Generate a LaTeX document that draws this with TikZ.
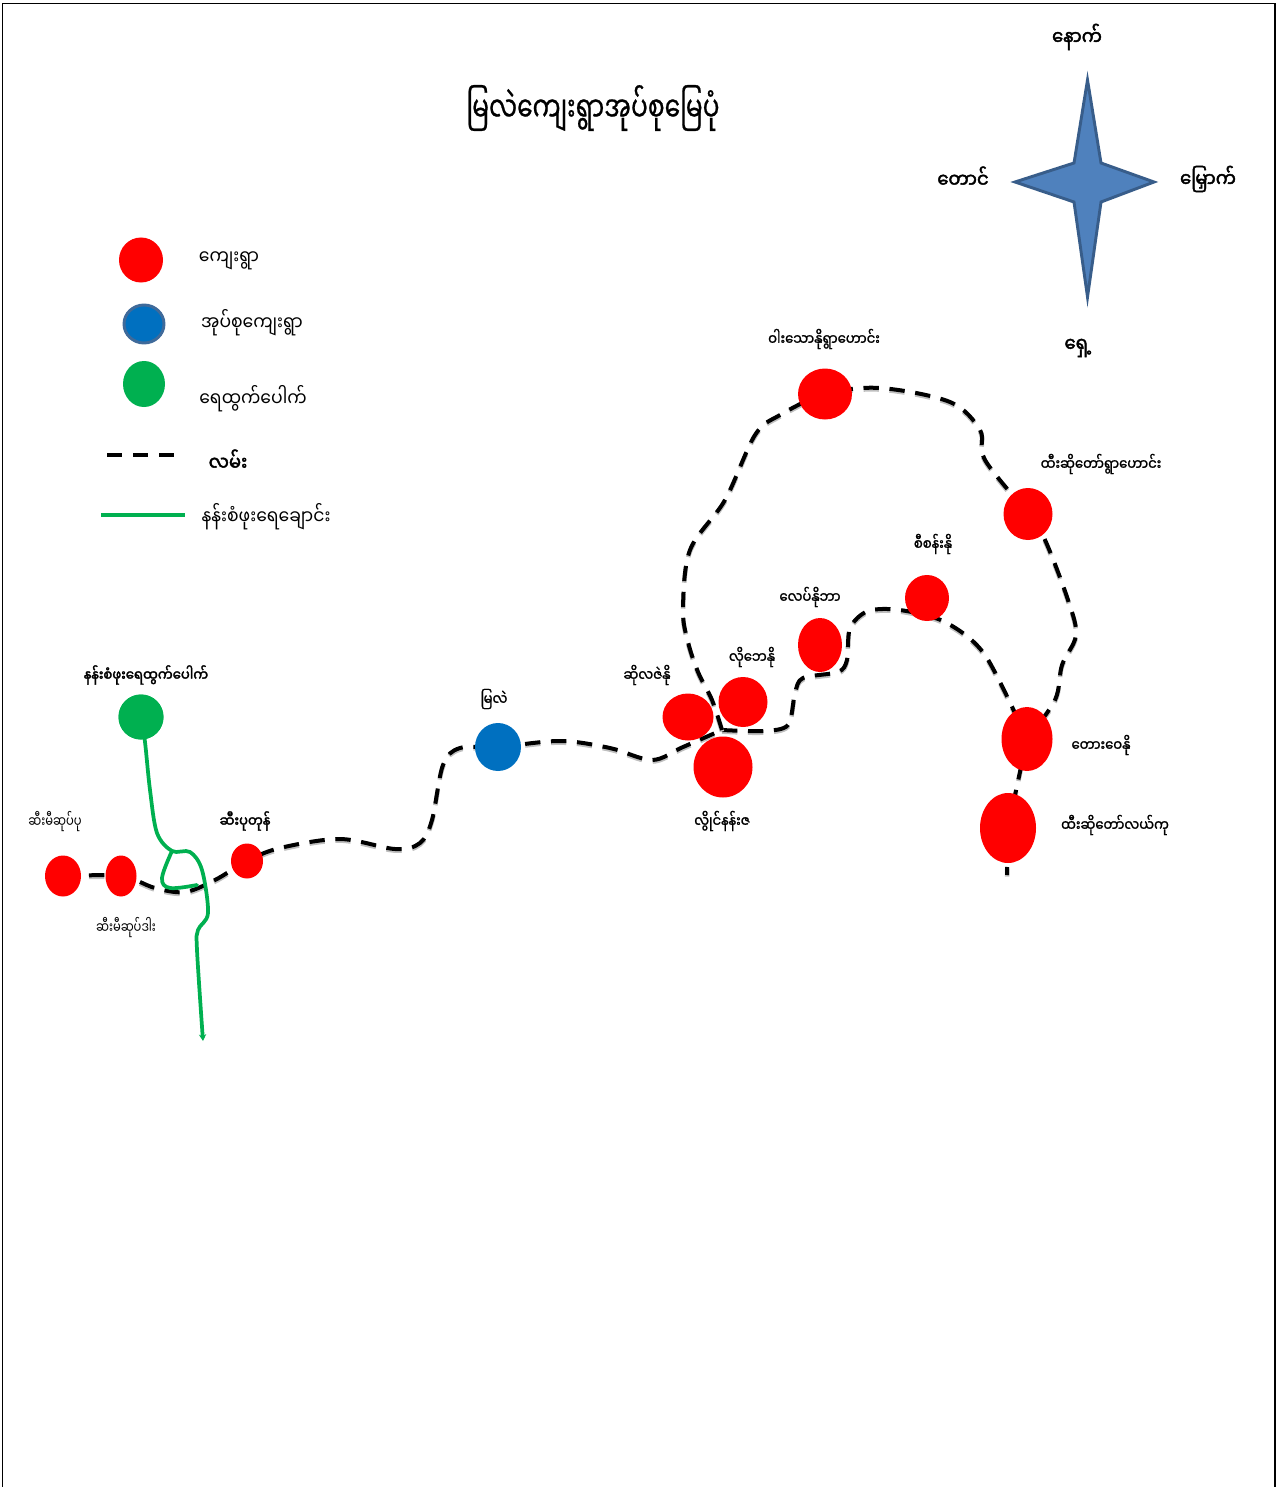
\documentclass[tikz,border=0pt]{standalone}
\usepackage{fontspec}
\usetikzlibrary{shapes.geometric,backgrounds,arrows.meta}
\newfontfamily\myfont[Script=Myanmar,FakeStretch=0.86]{Noto Sans Myanmar UI}
\newfontfamily\myheavy[Script=Myanmar,FakeStretch=0.86,FakeBold=1.2]{Noto Sans Myanmar UI}
\newfontfamily\myheavier[Script=Myanmar,FakeStretch=0.9,FakeBold=2.2]{Noto Sans Myanmar UI}
\newfontfamily\mynarrow[Script=Myanmar,FakeStretch=0.75]{Noto Sans Myanmar UI}
\newfontfamily\mytitle[Script=Myanmar,FakeStretch=0.72,FakeBold=0.6]{Noto Sans Myanmar UI}
\definecolor{villred}{HTML}{FF0000}
\definecolor{groupblue}{HTML}{0070C0}
\definecolor{bluerim}{HTML}{3F6A9A}
\definecolor{springgreen}{HTML}{00B050}
\definecolor{starfill}{HTML}{4F81BD}
\definecolor{starline}{HTML}{385D8A}
\tikzset{
  sz/.style 2 args={minimum width=#1*0.75pt,minimum height=#2*0.75pt},
  spot/.style={ellipse,inner sep=0pt,draw=none},
  vill/.style={spot,fill=villred},
  grp/.style={spot,fill=groupblue},
  spring/.style={spot,fill=springgreen},
  road/.style={draw=black,line width=3pt,dash pattern=on 11.5pt off 8pt,
     preaction={draw=black!25,line width=3.4pt,dash pattern=on 11.5pt off 8pt,transform canvas={yshift=-1.2pt}}},
  stream/.style={draw=springgreen,line width=2.8pt,line cap=round,line join=round},
  lab/.style={font=\myheavy\fontsize{11.5}{13}\selectfont,inner sep=0pt},
  thinlab/.style={font=\mynarrow\fontsize{11.5}{13}\selectfont,inner sep=0pt},
  blab/.style={font=\myheavier\fontsize{11}{13}\selectfont,inner sep=0pt},
  leg/.style={font=\myfont\fontsize{15}{18}\selectfont,inner sep=0pt},
  dirlab/.style={font=\myheavier\fontsize{15}{18}\selectfont,inner sep=0pt},
}
\begin{document}
\begin{tikzpicture}[x=0.75pt,y=-0.75pt]
\useasboundingbox (0,0) rectangle (1276,1487);
\draw[black,line width=0.9pt] (2.5,1487) -- (2.5,3.5) -- (1275,3.5) -- (1275,1487);

% title
\node[font=\mytitle\fontsize{26}{32}\selectfont,inner sep=0pt] (title) at (593,108) {မြလဲကျေးရွာအုပ်စုမြေပုံ};

% compass star
\draw[fill=starfill,draw=starline,line width=2.2pt,line join=miter,miter limit=20]
  (1087.5,80) -- (1101,163) -- (1154,182) -- (1101,202) -- (1087.5,297) -- (1074,202) -- (1015,182) -- (1074,163) -- cycle;
\node[dirlab] (north) at (1077,37) {နောက်};
\node[dirlab] (west) at (963,177) {တောင်};
\node[dirlab] (east) at (1208,179) {မြှောက်};
\node[dirlab] (south) at (1078,348) {ရှေ့};

% legend
\node[vill,sz={44}{45}] (lvill) at (141,260) {};
\node[grp,sz={40}{38},draw=bluerim,line width=2.2pt] (lgrp) at (144,324) {};
\node[spring,sz={42}{46}] (lspring) at (144,384) {};
\coordinate (lra) at (107,455);
\coordinate (lrb) at (174,455);
\coordinate (lsa) at (101,515);
\coordinate (lsb) at (185,515);
\draw[black,line width=3pt,dash pattern=on 11.5pt off 8pt] (lra) -- (lrb);
\draw[springgreen,line width=3pt] (lsa) -- (lsb);
\node[leg] (tvill) at (229,261) {ကျေးရွာ};
\node[leg] (tgrp) at (252,323) {အုပ်စုကျေးရွာ};
\node[leg] (tspring) at (253,399) {ရေထွက်ပေါက်};
\node[leg,font=\myheavier\fontsize{15}{18}\selectfont] (troad) at (228,460) {လမ်း};
\node[leg] (tstream) at (266,517) {နန်းစံဖုးရေချောင်း};

% places
\node[spring,sz={45}{45}] (gr) at (141,717) {};
\node[vill,sz={36}{41}] (sa) at (63,876) {};
\node[vill,sz={31}{41}] (sb) at (121,876) {};
\node[vill,sz={32}{35}] (st) at (247,861) {};
\node[grp,sz={46}{48}] (my) at (498,747) {};
\node[vill,sz={51}{47}] (sl) at (688,717) {};
\node[vill,sz={49}{50}] (lb) at (743,702) {};
\node[vill,sz={59}{61}] (lw) at (723,767) {};
\node[vill,sz={44}{54}] (lp) at (820,645) {};
\node[vill,sz={54}{51}] (wa) at (825,394) {};
\node[vill,sz={49}{52}] (ht) at (1028,514) {};
\node[vill,sz={44}{46}] (ss) at (927,598) {};
\node[vill,sz={51}{64}] (tg) at (1027,739) {};
\node[vill,sz={56}{70}] (hl) at (1008,828) {};
\coordinate (jn) at (722,730);
\coordinate (hlend) at (1007,875);
\coordinate (sj) at (172,851);
\coordinate (send) at (203,1041);

% labels
\node[blab] (tgr) at (146,675) {နန်းစံဖုးရေထွက်ပေါက်};
\node[thinlab] (tsa) at (55,822) {ဆီးမီဆုပ်ပု};
\node[thinlab] (tsb) at (126,928) {ဆီးမီဆုပ်ဒါး};
\node[blab] (tst) at (245,821) {ဆီးပုတုန်};
\node[lab] (tmy) at (494,699) {မြလဲ};
\node[lab] (tsl) at (647,675) {ဆိုလဇဲနို};
\node[lab] (tlb) at (752,657) {လိုဘေနို};
\node[lab] (tlp) at (810,597) {လေပ်နိုဘာ};
\node[lab] (tlw) at (722,821) {လွိုင်နန်းဇ};
\node[lab] (twa) at (824,339) {ဝါးသောနိုရွာဟောင်း};
\node[lab] (tht) at (1101,464) {ထီးဆိုတော်ရွာဟောင်း};
\node[lab] (tss) at (933,544) {စီစန်းနို};
\node[lab] (ttg) at (1101,745) {တေားဝေနို};
\node[lab] (thl) at (1115,825) {ထီးဆိုတော်လယ်ကု};

\begin{scope}[on background layer]
% main road, west to the junction
\draw[road] plot[smooth,tension=.55] coordinates {(sa.center) (sb.center) (155,888) (185,892) (215,880) (st.center) (280,848) (340,839) (395,849) (420,843) (432,820) (443,765) (460,748) (my.center) (560,741) (610,748) (652,760) (683,747) (jn)};
% junction east via Lp and Ss to Tg
\draw[road] plot[smooth,tension=.5] coordinates {(jn) (763,731) (788,725) (795,693) (803,678) (838,672) (847,660) (850,628) (868,611) (900,610) (945,622) (985,655) (tg.center)};
% junction north via Wa and Ht to Tg
\draw[road] plot[smooth,tension=.55] coordinates {(jn) (712,700) (698,672) (688,642) (683,610) (690,550) (725,500) (755,435) (780,415) (wa.center) (880,388) (950,402) (980,430) (985,460) (ht.center) (1045,540) (1068,600) (1076,635) (1062,665) (1055,700) (tg.center)};
% Tg south
\draw[road] (tg.center) -- (hl.center) -- (hlend);
\end{scope}

% stream
\draw[stream,-{Stealth[length=5pt,width=5.5pt]}] plot[smooth,tension=.55] coordinates {(gr.center) (145,742) (150,790) (157,833) (sj) (190,852) (202,870) (208,913) (198,930) (197,950) (send)};
\draw[stream] plot[smooth,tension=.6] coordinates {(sj) (162,878) (170,888) (197,885)};
\node[spring,sz={45}{45}] at (gr) {};
\end{tikzpicture}
\end{document}
